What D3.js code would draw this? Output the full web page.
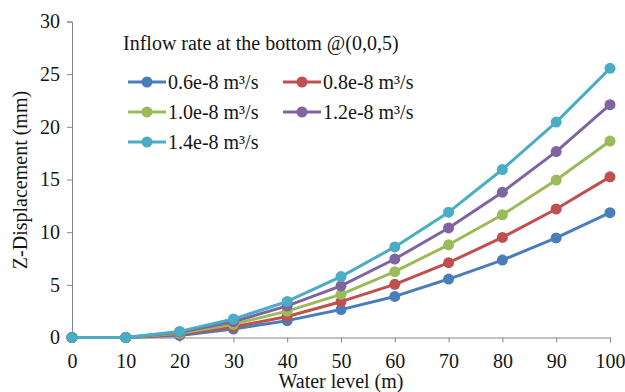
<!DOCTYPE html>
<html>
<head>
<meta charset="utf-8">
<script src="https://cdn.jsdelivr.net/npm/d3@7/dist/d3.min.js"></script>
<style>
  html, body { margin: 0; padding: 0; background: #fff; }
  svg { display: block; font-family: "Liberation Serif", "Times New Roman", serif; }
</style>
</head>
<body>
<svg id="chart" width="625" height="392"></svg>
<script>
// Water level (m) on the x axis
const waterLevels = [0, 10, 20, 30, 40, 50, 60, 70, 80, 90, 100];

// Z-displacement (mm) for each inflow rate
const flow06 = [0, 0, 0.2, 0.8, 1.6, 2.65, 3.9, 5.55, 7.35, 9.45, 11.85];
const flow08 = [0, 0, 0.3, 1.0, 2.0, 3.4, 5.05, 7.1, 9.5, 12.2, 15.25];
const flow10 = [0, 0, 0.4, 1.25, 2.5, 4.1, 6.25, 8.8, 11.65, 14.95, 18.65];
const flow12 = [0, 0, 0.5, 1.5, 3.0, 4.9, 7.45, 10.4, 13.8, 17.65, 22.1];
const flow14 = [0, 0, 0.58, 1.75, 3.42, 5.78, 8.6, 11.9, 15.95, 20.45, 25.55];

const seriesNames = ["0.6e-8 m³/s", "0.8e-8 m³/s", "1.0e-8 m³/s", "1.2e-8 m³/s", "1.4e-8 m³/s"];
const seriesValues = [flow06, flow08, flow10, flow12, flow14];
const seriesColors = ["#4a7ebb", "#c0504d", "#9bbb59", "#8064a2", "#4bacc6"];

const xTicks = [0, 10, 20, 30, 40, 50, 60, 70, 80, 90, 100];
const yTicks = [0, 5, 10, 15, 20, 25, 30];

const legendTitle = "Inflow rate at the bottom @(0,0,5)";
const xTitle = "Water level (m)";
const yTitle = "Z-Displacement (mm)";

const svg = d3.select("#chart");
const axisColor = "#868686";
const fontSize = 20;
const textColor = "#151515";

const x = d3.scaleLinear().domain([0, 100]).range([72, 610]);
const y = d3.scaleLinear().domain([0, 30]).range([337.5, 21.5]);

// y axis
const yAxis = svg.append("g")
  .attr("transform", `translate(${x(0)},0)`)
  .call(d3.axisLeft(y).tickValues(yTicks).tickSize(5).tickPadding(7));
yAxis.select(".domain").attr("stroke", axisColor);
yAxis.selectAll(".tick line").attr("stroke", axisColor);
yAxis.selectAll(".tick text")
  .attr("fill", textColor)
  .style("font-family", "Liberation Serif, Times New Roman, serif")
  .style("font-size", fontSize + "px");

// x axis
const xAxis = svg.append("g")
  .attr("transform", `translate(0,${y(0)})`)
  .call(d3.axisBottom(x).tickValues(xTicks).tickSize(5).tickPadding(11));
xAxis.select(".domain").attr("stroke", axisColor);
xAxis.selectAll(".tick line").attr("stroke", axisColor);
xAxis.selectAll(".tick text")
  .attr("fill", textColor)
  .style("font-family", "Liberation Serif, Times New Roman, serif")
  .style("font-size", fontSize + "px");

// axis titles
svg.append("text")
  .attr("x", 341).attr("y", 388)
  .attr("text-anchor", "middle")
  .attr("fill", textColor)
  .style("font-size", fontSize + "px")
  .text(xTitle);

svg.append("text")
  .attr("transform", `translate(27,180) rotate(-90)`)
  .attr("text-anchor", "middle")
  .attr("fill", textColor)
  .style("font-size", fontSize + "px")
  .text(yTitle);

// series lines and markers
const line = d3.line()
  .x((d, i) => x(waterLevels[i]))
  .y(d => y(d));

seriesValues.forEach((vals, k) => {
  const g = svg.append("g");
  g.append("path")
    .datum(vals)
    .attr("d", line)
    .attr("fill", "none")
    .attr("stroke", seriesColors[k])
    .attr("stroke-width", 3)
    .attr("stroke-linejoin", "round");
  g.selectAll("circle")
    .data(vals)
    .join("circle")
    .attr("cx", (d, i) => x(waterLevels[i]))
    .attr("cy", d => y(d))
    .attr("r", 5.5)
    .attr("fill", seriesColors[k]);
});

// legend
svg.append("text")
  .attr("x", 123).attr("y", 50)
  .attr("fill", textColor)
  .style("font-size", fontSize + "px")
  .text(legendTitle);

const legendPos = [
  [128, 82], [283, 82],
  [128, 112], [283, 112],
  [128, 142]
];
seriesNames.forEach((name, k) => {
  const [lx, ly] = legendPos[k];
  const g = svg.append("g").attr("transform", `translate(${lx},${ly})`);
  g.append("line")
    .attr("x1", 0).attr("x2", 38)
    .attr("y1", 0).attr("y2", 0)
    .attr("stroke", seriesColors[k])
    .attr("stroke-width", 3);
  g.append("circle")
    .attr("cx", 19).attr("cy", 0).attr("r", 5.5)
    .attr("fill", seriesColors[k]);
  g.append("text")
    .attr("x", 40).attr("y", 7)
    .attr("fill", textColor)
    .style("font-size", fontSize + "px")
    .text(name);
});
</script>
</body>
</html>
